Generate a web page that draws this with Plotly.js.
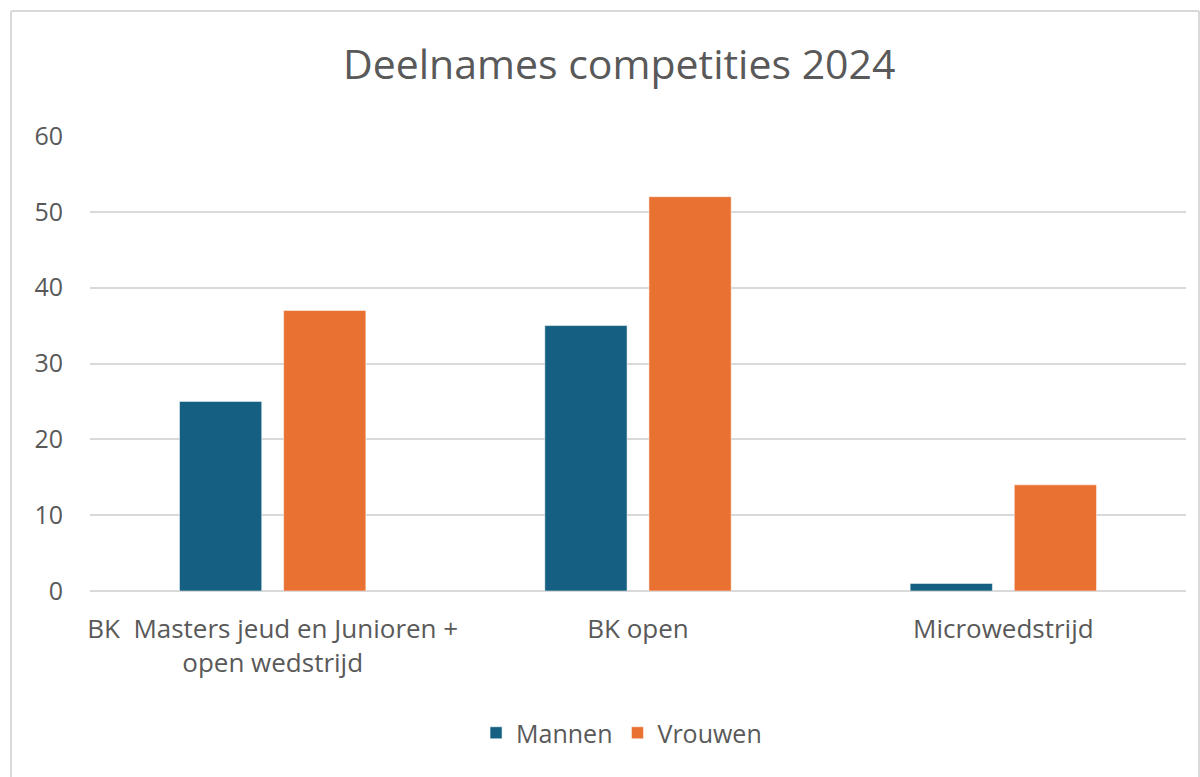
<!DOCTYPE html>
<html>
<head>
<meta charset="utf-8">
<script src="https://cdn.plot.ly/plotly-3.0.1.min.js"></script>
<style>
html,body{margin:0;padding:0;background:#fff;}
#chart{width:1200px;height:777px;}
</style>
</head>
<body>
<div id="chart"></div>
<script>
const categories = ["BK  Masters jeud en Junioren +<br>open wedstrijd", "BK open", "Microwedstrijd"];
const seriesNames = ["Mannen", "Vrouwen"];
const mannen = [25, 35, 1];
const vrouwen = [37, 52, 14];
const yTicks = [0, 10, 20, 30, 40, 50, 60];
const titleText = "Deelnames competities 2024";

const W = 1200, H = 777;
const M = {l: 90, r: 14, t: 136, b: 186};
const pw = W - M.l - M.r, ph = H - M.t - M.b;
const px = x => (x - M.l) / pw;
const py = y => (H - M.b - y) / ph;

const FONT = "Open Sans, Noto Sans, sans-serif";
const GRAY = "#595959";

const traces = [
  {type: "bar", name: seriesNames[0], x: categories, y: mannen,
   marker: {color: "#156082", line: {color: "rgba(255,255,255,0.5)", width: 1}}, hoverinfo: "y"},
  {type: "bar", name: seriesNames[1], x: categories, y: vrouwen,
   marker: {color: "#E97132", line: {color: "rgba(255,255,255,0.5)", width: 1}}, hoverinfo: "y"}
];

const layout = {
  width: W, height: H,
  margin: M,
  paper_bgcolor: "#fff", plot_bgcolor: "#fff",
  font: {family: FONT, color: GRAY},
  title: {text: titleText, x: 0.516, xanchor: "center", y: 1 - 65 / H, yanchor: "middle",
          font: {family: FONT, size: 41, color: GRAY}},
  barmode: "group",
  bargap: 0.43,
  bargroupgap: 0.21,
  xaxis: {type: "category", showgrid: false, zeroline: false, showline: false,
          ticks: "", tickfont: {family: FONT, size: 26, color: GRAY}, ticklabelstandoff: 20},
  yaxis: {range: [0, 60], tickvals: yTicks, ticktext: yTicks.map(String),
          showgrid: true, gridcolor: "#D9D9D9", gridwidth: 2, zeroline: true, zerolinecolor: "#D9D9D9", zerolinewidth: 2,
          showline: false, ticks: "", tickfont: {family: FONT, size: 25, color: GRAY}, ticklabelstandoff: 26},
  showlegend: true,
  legend: {orientation: "h", x: 0.485, xanchor: "center", y: py(733), yanchor: "middle",
           font: {family: FONT, size: 25, color: GRAY}, itemwidth: 30, traceorder: "normal"},
  shapes: [
    {type: "line", xref: "paper", yref: "paper", x0: px(11), x1: px(11), y0: py(11), y1: py(800), line: {color: "#D9D9D9", width: 2}},
    {type: "line", xref: "paper", yref: "paper", x0: px(11), x1: px(1199), y0: py(11), y1: py(11), line: {color: "#D9D9D9", width: 2}},
    {type: "line", xref: "paper", yref: "paper", x0: px(1199), x1: px(1199), y0: py(11), y1: py(800), line: {color: "#D9D9D9", width: 2}}
  ]
};

Plotly.newPlot("chart", traces, layout, {displayModeBar: false, staticPlot: true});
</script>
</body>
</html>
